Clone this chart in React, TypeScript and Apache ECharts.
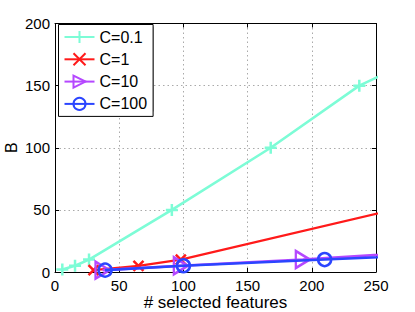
import React, { useEffect, useRef } from "react";
import * as echarts from "echarts";

const xTicks = [0, 50, 100, 150, 200, 250];
const yTicks = [0, 50, 100, 150, 200];
const seriesNames = ["C=0.1", "C=1", "C=10", "C=100"];
const colors = ["#7dfcd6", "#ff1a1a", "#b548ff", "#2b45ff"];

// [selected features, B]
const c01: number[][] = [[5.7, 2], [15.6, 5], [26.5, 10], [91, 50], [168, 100], [237, 150], [341, 200]];
const c1: number[][] = [[30, 1.5], [65, 5], [98, 10], [263, 50]];
const c10: number[][] = [[37, 1.5], [98, 5], [193, 10], [808, 50]];
const c100: number[][] = [[39, 1.5], [100, 5], [210, 10], [1099, 50]];

const FONT = "'Liberation Sans', Arial, Helvetica, sans-serif";

const PLUS = "path://M5,0 L5,10 M0,5 L10,5";
const CROSS = "path://M0,0 L10,10 M10,0 L0,10";
const TRI = "path://M0,0 L10,5 L0,10 Z";

export default function App() {
  const ref = useRef<HTMLDivElement>(null);
  useEffect(() => {
    if (!ref.current) return;
    const chart = echarts.init(ref.current, null, { renderer: "svg" });
    const data = [c01, c1, c10, c100];
    const symbols = [PLUS, CROSS, TRI, "circle"];
    const sizes: any[] = [12, 10, [14, 17], 13];
    const widths = [2.6, 2.2, 2.6, 2.6];
    const series = data.map((d, i) => ({
      name: seriesNames[i],
      type: "line",
      data: d,
      xAxisIndex: 0,
      yAxisIndex: 0,
      color: colors[i],
      symbol: symbols[i],
      symbolSize: sizes[i],
      showAllSymbol: true,
      clip: true,
      lineStyle: { color: colors[i], width: widths[i] },
      itemStyle: { color: "none", borderColor: colors[i], borderWidth: 2.5 },
      emphasis: { disabled: true },
      z: 2 + i,
    }));
    const axisCommon = {
      axisLine: { show: true, onZero: false, lineStyle: { color: "#000", width: 1 } },
      axisTick: { show: true, inside: true, length: 4, lineStyle: { color: "#000" } },
    };
    chart.setOption({
      animation: false,
      textStyle: { fontFamily: FONT },
      grid: { left: 55, right: 39, top: 23.5, bottom: 40, show: false, containLabel: false, outerBoundsMode: "none" },
      legend: {
        data: seriesNames,
        orient: "vertical",
        left: 58.5,
        top: 24.5,
        padding: [4, 6, 4, 5],
        itemWidth: 30,
        itemHeight: 15,
        itemGap: 5.3,
        backgroundColor: "#fff",
        borderColor: "#000",
        borderWidth: 1,
        textStyle: { fontFamily: FONT, fontSize: 16, lineHeight: 15, color: "#000" },
        z: 10,
      },
      graphic: [
        {
          type: "rect",
          shape: { x: 60.5, y: 26.5, width: 93, height: 85 },
          style: { fill: "#777" },
          z: 9,
        },
      ],
      xAxis: [
        {
          type: "value",
          min: 0,
          max: 250,
          interval: 50,
          position: "bottom",
          ...axisCommon,
          axisLabel: { fontSize: 15, lineHeight: 15, color: "#000", margin: 6, fontFamily: FONT },
          splitLine: { show: true, lineStyle: { color: "#aaa", type: [1.5, 3], width: 1 } },
          name: "# selected features",
          nameLocation: "middle",
          nameGap: 22,
          nameMoveOverlap: false,
          nameTextStyle: { fontSize: 17, lineHeight: 17, color: "#000", fontFamily: FONT },
        },
        {
          type: "value",
          min: 0,
          max: 250,
          interval: 50,
          position: "top",
          ...axisCommon,
          axisLabel: { show: false },
          splitLine: { show: false },
        },
      ],
      yAxis: [
        {
          type: "value",
          min: 0,
          max: 200,
          interval: 50,
          position: "left",
          ...axisCommon,
          axisLabel: { fontSize: 15, lineHeight: 15, color: "#000", margin: 5, fontFamily: FONT },
          splitLine: { show: true, lineStyle: { color: "#aaa", type: [1.5, 3], width: 1 } },
          name: "B",
          nameLocation: "middle",
          nameGap: 36,
          nameMoveOverlap: false,
          nameTextStyle: { fontSize: 16, lineHeight: 16, color: "#000", fontFamily: FONT },
        },
        {
          type: "value",
          min: 0,
          max: 200,
          interval: 50,
          position: "right",
          ...axisCommon,
          axisLabel: { show: false },
          splitLine: { show: false },
        },
      ],
      series,
    });
    return () => chart.dispose();
  }, []);
  return <div ref={ref} style={{ width: 415, height: 312, position: "absolute", left: 0, top: 0 }} />;
}
